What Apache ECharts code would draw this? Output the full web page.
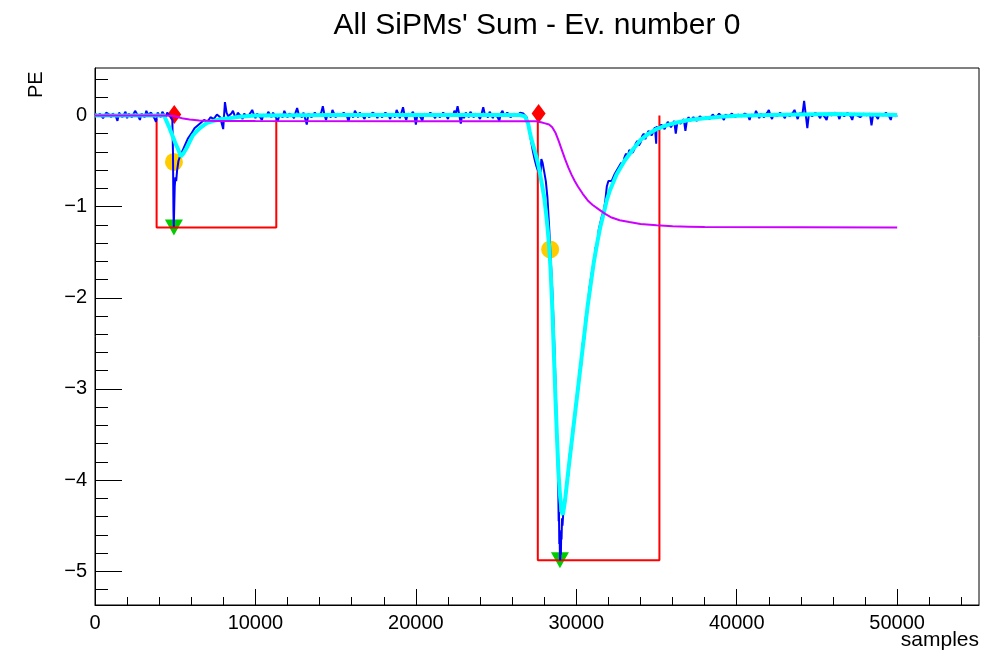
<!DOCTYPE html>
<html>
<head>
<meta charset="utf-8">
<script src="https://cdn.jsdelivr.net/npm/echarts@6/dist/echarts.min.js"></script>
<style>
  html, body { margin: 0; padding: 0; background: #fff; }
  #chart { width: 991px; height: 654px; }
</style>
</head>
<body>
<div id="chart"></div>
<script>
// summed waveform [sample, PE]
var waveform = [
  [0, 0.02], [100, 0.04], [200, -0.01], [300, 0.02], [400, 0.03], [500, -0.03], [600, 0.00], [700, 0.03],
  [800, 0.04], [900, 0.01], [1000, -0.02], [1100, 0.02], [1200, 0.03], [1300, -0.01], [1400, -0.06], [1500, 0.03],
  [1600, 0.02], [1700, -0.02], [1800, 0.01], [1900, 0.04], [2000, -0.03], [2100, 0.02], [2200, 0.04], [2300, -0.02],
  [2400, 0.00], [2500, 0.05], [2600, 0.03], [2700, -0.01], [2800, -0.05], [2900, 0.02], [3000, 0.02], [3100, -0.02],
  [3200, 0.05], [3300, 0.01], [3400, -0.01], [3500, 0.03], [3600, 0.03], [3700, -0.03], [3800, -0.07], [3900, 0.03],
  [4000, 0.02], [4100, -0.02], [4200, 0.04], [4300, 0.01], [4400, -0.02], [4500, 0.03], [4600, 0.03], [4700, -0.01],
  [4750, 0.00], [4820, -0.05], [4860, -0.4], [4890, -1.05], [4910, -1.22], [4940, -1.0], [4970, -0.78], [5010, -0.68],
  [5060, -0.72], [5120, -0.6], [5200, -0.5], [5300, -0.45], [5450, -0.39], [5600, -0.33], [5800, -0.25], [6000, -0.2],
  [6200, -0.14], [6400, -0.11], [6600, -0.08], [6800, -0.05], [7000, -0.07], [7200, -0.02], [7400, -0.04], [7600, 0.01],
  [7800, -0.02], [7990, -0.15], [8100, 0.145],
  [8200, 0.03], [8300, -0.01], [8400, -0.02], [8500, 0.02], [8600, 0.05], [8700, 0.00], [8800, -0.03], [8900, 0.03],
  [9000, 0.02], [9100, -0.01], [9200, -0.04], [9300, 0.02], [9400, 0.04], [9500, -0.02], [9600, 0.00], [9700, 0.03],
  [9800, 0.06], [9900, 0.01], [10000, -0.03], [10100, 0.02], [10200, 0.03], [10300, -0.02], [10400, -0.05], [10500, 0.01],
  [10600, 0.02], [10700, -0.01], [10800, 0.04], [10900, 0.02], [11000, -0.02], [11100, 0.03], [11200, 0.03], [11300, -0.03],
  [11400, -0.06], [11500, 0.01], [11600, 0.02], [11700, -0.02], [11800, 0.05], [11900, 0.01], [12000, -0.02], [12100, 0.02],
  [12200, 0.03], [12300, 0.00], [12400, -0.03], [12500, 0.03], [12600, 0.08], [12700, 0.01], [12800, 0.00], [12900, -0.02],
  [13000, 0.03], [13100, 0.01], [13200, -0.1], [13300, 0.02], [13400, 0.04], [13500, -0.02], [13600, -0.01], [13700, 0.03],
  [13800, 0.05], [13900, -0.01], [14000, -0.03], [14100, 0.03], [14200, 0.1], [14300, 0.01], [14400, -0.05], [14500, 0.02],
  [14600, 0.03], [14700, -0.02], [14800, 0.06], [14900, 0.02], [15000, -0.02], [15100, 0.02], [15200, 0.03], [15300, -0.01],
  [15400, -0.03], [15500, 0.03], [15600, 0.04], [15700, 0.00], [15800, -0.07], [15900, 0.02], [16000, 0.02], [16100, -0.02],
  [16200, 0.05], [16300, 0.02], [16400, -0.02], [16500, 0.03], [16600, 0.03], [16700, -0.01], [16800, -0.04], [16900, 0.02],
  [17000, 0.04], [17100, -0.02], [17200, 0.00], [17300, 0.03], [17400, 0.05], [17500, 0.01], [17600, -0.03], [17700, 0.02],
  [17800, 0.03], [17900, -0.02], [18000, -0.02], [18100, 0.03], [18200, 0.04], [18300, 0.00], [18400, -0.04], [18500, 0.02],
  [18600, 0.02], [18700, -0.02], [18800, 0.06], [18900, 0.02], [19000, -0.03], [19100, 0.03], [19200, 0.09], [19300, 0.00],
  [19400, -0.05], [19500, 0.02], [19600, 0.02], [19700, -0.01], [19800, 0.04], [19900, 0.01], [20000, -0.1], [20100, 0.02],
  [20200, 0.03], [20300, -0.02], [20400, -0.06], [20500, 0.02], [20600, 0.04], [20700, -0.01], [20800, 0.00], [20900, 0.03],
  [21000, 0.05], [21100, 0.00], [21200, -0.03], [21300, 0.02], [21400, 0.03], [21500, -0.02], [21600, -0.02], [21700, 0.03],
  [21800, 0.04], [21900, 0.00], [22000, -0.04], [22100, 0.02], [22200, 0.02], [22300, -0.01], [22400, 0.05], [22500, 0.02],
  [22600, 0.1], [22700, 0.01], [22800, -0.09], [22900, 0.02], [23000, -0.03], [23100, 0.03], [23200, 0.02], [23300, -0.02],
  [23400, 0.04], [23500, 0.01], [23600, -0.02], [23700, 0.02], [23800, 0.03], [23900, -0.01], [24000, -0.04], [24100, 0.02],
  [24200, 0.09], [24300, 0.01], [24400, 0.00], [24500, -0.02], [24600, 0.04], [24700, 0.01], [24800, -0.03], [24900, 0.02],
  [25000, 0.03], [25100, -0.02], [25200, -0.06], [25300, 0.02], [25400, 0.05], [25500, 0.00], [25600, 0.00], [25700, 0.03],
  [25800, 0.03], [25900, -0.02], [26000, -0.03], [26100, 0.02], [26200, 0.04], [26300, 0.00], [26400, -0.02], [26500, 0.03],
  [26600, 0.03], [26700, 0.02], [26800, 0.01], [26900, -0.02], [27000, -0.1], [27100, -0.2], [27200, -0.3], [27300, -0.4],
  [27400, -0.48], [27500, -0.55], [27600, -0.6], [27700, -0.62], [27780, -0.62], [27820, -0.48], [27900, -0.52], [28000, -0.62],
  [28100, -0.72], [28200, -0.9], [28300, -1.2], [28400, -1.55], [28500, -1.9], [28600, -2.35], [28700, -2.9], [28800, -3.5],
  [28860, -3.95], [28880, -4.15], [28900, -4.45], [28920, -4.35], [28940, -4.7], [28960, -4.6], [28980, -4.85], [29000, -4.88],
  [29020, -4.7], [29040, -4.82], [29060, -4.55], [29080, -4.65], [29110, -4.42], [29140, -4.5], [29200, -4.32],
  [29300, -4.2], [29400, -4.02], [29500, -3.95], [29600, -3.7], [29700, -3.65], [29800, -3.4], [29900, -3.35], [30000, -3.1],
  [30100, -3.05], [30200, -2.8], [30300, -2.75], [30400, -2.5], [30500, -2.45], [30600, -2.2], [30700, -2.15], [30800, -1.92],
  [30900, -1.9], [31000, -1.68], [31100, -1.62], [31200, -1.45], [31300, -1.42], [31400, -1.25], [31500, -1.25], [31600, -1.1],
  [31700, -1.05], [31800, -0.95], [31900, -0.78], [32000, -0.72], [32100, -0.74], [32200, -0.72], [32300, -0.68], [32400, -0.64],
  [32500, -0.66], [32600, -0.58], [32700, -0.6], [32800, -0.52], [32900, -0.55], [33000, -0.46], [33100, -0.42], [33200, -0.46],
  [33300, -0.38], [33400, -0.36], [33500, -0.41], [33600, -0.38], [33700, -0.31], [33800, -0.28], [33900, -0.33], [34000, -0.3],
  [34100, -0.23], [34200, -0.2], [34300, -0.26], [34400, -0.24], [34500, -0.17], [34600, -0.15], [34700, -0.22], [34800, -0.2],
  [34900, -0.13], [34980, -0.31], [35000, -0.12], [35100, -0.16], [35200, -0.18], [35300, -0.1], [35400, -0.08], [35500, -0.15],
  [35600, -0.14], [35700, -0.07], [35800, -0.06], [35900, -0.13], [36000, -0.12], [36100, -0.06], [36200, -0.2], [36300, -0.07],
  [36400, -0.05], [36500, -0.09], [36600, -0.1], [36700, -0.04], [36800, -0.17], [36900, -0.05], [37000, -0.02], [37100, -0.06],
  [37200, -0.08], [37300, -0.02], [37400, -0.03], [37500, -0.06], [37600, -0.07], [37700, -0.01], [37800, 0.0], [37900, -0.04],
  [38000, -0.06], [38100, -0.02], [38200, -0.01], [38300, -0.04], [38400, -0.05], [38500, 0.01], [38600, 0.02], [38700, -0.03],
  [38800, -0.04], [38900, 0.02], [39000, 0.01], [39100, -0.02], [39200, -0.05], [39300, 0.01], [39400, 0.03], [39500, -0.01],
  [39600, -0.02], [39700, 0.02], [39800, 0.02], [39900, -0.02], [40000, -0.04], [40100, 0.01], [40200, 0.03], [40300, -0.01],
  [40400, -0.02], [40500, 0.02], [40600, 0.04], [40700, 0.00], [40800, -0.05], [40900, 0.01], [41000, 0.02], [41100, -0.01],
  [41200, 0.05], [41300, 0.01], [41400, -0.03], [41500, 0.02], [41600, 0.03], [41700, -0.02], [41800, -0.02], [41900, 0.03],
  [42000, 0.06], [42100, 0.00], [42200, -0.04], [42300, 0.02], [42400, 0.03], [42500, -0.01], [42600, 0.00], [42700, 0.03],
  [42800, 0.05], [42900, 0.00], [43000, -0.03], [43100, 0.02], [43200, 0.04], [43300, -0.01], [43400, -0.02], [43500, 0.03],
  [43600, 0.06], [43700, 0.01], [43800, -0.04], [43900, 0.02], [44000, 0.03], [44100, 0.02], [44200, 0.16], [44300, 0.01],
  [44400, -0.14], [44500, 0.02], [44600, 0.04], [44700, -0.01], [44800, -0.02], [44900, 0.03], [45000, 0.05], [45100, 0.00],
  [45200, -0.03], [45300, 0.02], [45400, 0.03], [45500, -0.02], [45600, -0.05], [45700, 0.02], [45800, 0.04], [45900, 0.00],
  [46000, 0.00], [46100, 0.03], [46200, 0.05], [46300, 0.01], [46400, -0.04], [46500, 0.02], [46600, 0.03], [46700, -0.01],
  [46800, -0.02], [46900, 0.03], [47000, 0.04], [47100, -0.01], [47200, -0.05], [47300, 0.02], [47400, 0.03], [47500, 0.00],
  [47600, 0.02], [47700, -0.02], [47800, -0.03], [47900, 0.02], [48000, 0.04], [48100, 0.00], [48200, -0.02], [48300, 0.02],
  [48400, -0.11], [48500, 0.01], [48600, 0.03], [48700, -0.01], [48800, -0.04], [48900, 0.02], [49000, 0.04], [49100, 0.00],
  [49200, -0.02], [49300, 0.03], [49400, 0.03], [49500, -0.01], [49600, -0.05], [49700, 0.02], [49800, 0.02], [49900, -0.01],
  [50000, 0.0]
];

// fitted pulse shape
var fitCurve = [
  [0, 0.0], [4300, 0.0], [4400, -0.04], [4600, -0.12], [4800, -0.21], [5000, -0.3], [5200, -0.38], [5350, -0.45],
  [5400, -0.46], [5450, -0.44], [5500, -0.42], [5700, -0.36], [5900, -0.29], [6100, -0.22], [6300, -0.18], [6600, -0.13],
  [7000, -0.08], [7400, -0.06], [7900, -0.04], [8400, -0.03], [9000, -0.015], [10000, 0.0], [15000, 0.005], [20000, 0.005],
  [26500, 0.005], [26800, -0.01], [26900, -0.03], [27000, -0.09], [27100, -0.18], [27200, -0.26], [27300, -0.32], [27400, -0.38],
  [27500, -0.45], [27600, -0.52], [27700, -0.6], [27800, -0.7], [27900, -0.8], [28000, -0.9], [28100, -1.05], [28200, -1.22],
  [28300, -1.42], [28400, -1.7], [28500, -2.1], [28600, -2.6], [28700, -3.1], [28800, -3.55], [28900, -3.95], [29000, -4.2],
  [29100, -4.35], [29160, -4.38], [29300, -4.22], [29500, -3.9], [29700, -3.6], [29900, -3.3], [30100, -3.0], [30300, -2.7],
  [30500, -2.4], [30700, -2.1], [30900, -1.85], [31100, -1.6], [31300, -1.4], [31500, -1.22], [31700, -1.08], [31900, -0.93],
  [32100, -0.82], [32500, -0.65], [33000, -0.5], [33500, -0.38], [34000, -0.27], [34500, -0.2], [35000, -0.15], [35600, -0.11],
  [36200, -0.08], [37000, -0.05], [38000, -0.03], [39000, -0.015], [40000, -0.005], [42000, 0.005], [44000, 0.01], [46000, 0.015],
  [48000, 0.01], [50000, 0.005]
];

// running integral
var integral = [
  [0, 0.0], [4000, 0.0], [4800, -0.005], [5000, -0.01], [5200, -0.02], [5500, -0.035], [5900, -0.045], [6500, -0.055],
  [7500, -0.06], [10000, -0.062], [20000, -0.063], [27000, -0.063], [27500, -0.065], [27800, -0.075], [28000, -0.085], [28300, -0.1],
  [28500, -0.13], [28700, -0.19], [28900, -0.28], [29100, -0.38], [29300, -0.48], [29500, -0.57], [29700, -0.65], [29900, -0.72],
  [30100, -0.78], [30400, -0.86], [30700, -0.93], [31000, -0.98], [31400, -1.03], [31800, -1.08], [32200, -1.12], [32700, -1.15],
  [33300, -1.17], [34000, -1.19], [35000, -1.205], [36000, -1.215], [37000, -1.22], [38000, -1.225], [50000, -1.23]
];

// integration windows
var windowStart = [3840, 27600];
var windowEnd = [11300, 35180];
var windowTop = [-0.04, 0];
var windowBottom = [-1.23, -4.88];

// markers
var startX = [4940, 27650];
var startY = [0.01, 0.02];
var halfX = [4920, 28370];
var halfY = [-0.51, -1.47];
var peakX = [4920, 28980];
var peakY = [-1.23, -4.88];

var xMajorTicks = [0, 10000, 20000, 30000, 40000, 50000];
var xMinorTicks = [2000, 4000, 6000, 8000, 12000, 14000, 16000, 18000, 22000, 24000, 26000, 28000,
  32000, 34000, 36000, 38000, 42000, 44000, 46000, 48000, 52000, 54000];
var yMajorTicks = [-5, -4, -3, -2, -1, 0];
var yMinorTicks = [-5.2, -4.8, -4.6, -4.4, -4.2, -3.8, -3.6, -3.4, -3.2, -2.8, -2.6, -2.4, -2.2,
  -1.8, -1.6, -1.4, -1.2, -0.8, -0.6, -0.4, -0.2, 0.2, 0.4];

var FONT = 'Liberation Sans';
var chart = echarts.init(document.getElementById('chart'));

function pairs(xs, ys) {
  return xs.map(function (x, i) { return [x, ys[i]]; });
}

var series = [];
windowStart.forEach(function (x0, i) {
  series.push({
    type: 'line',
    data: [[x0, windowTop[i]], [x0, windowBottom[i]], [windowEnd[i], windowBottom[i]], [windowEnd[i], windowTop[i]]],
    showSymbol: false,
    lineStyle: { color: '#ff0000', width: 2 },
    silent: true
  });
});
series.push({
  type: 'line', data: waveform, showSymbol: false, silent: true,
  lineStyle: { color: '#0000ff', width: 2 }
});
series.push({
  type: 'line', data: fitCurve, showSymbol: false, silent: true,
  lineStyle: { color: '#00ffff', width: 4 }
});
series.push({
  type: 'line', data: integral, showSymbol: false, silent: true,
  lineStyle: { color: '#cc00ff', width: 2 }
});
series.push({
  type: 'scatter', data: pairs(startX, startY), symbol: 'diamond', symbolSize: [14, 19],
  itemStyle: { color: '#ff0000', opacity: 1 }, silent: true
});
series.push({
  type: 'scatter', data: pairs(halfX, halfY), symbol: 'circle', symbolSize: 18,
  itemStyle: { color: '#ffcc00', opacity: 1 }, silent: true
});
series.push({
  type: 'scatter', data: pairs(peakX, peakY), symbol: 'triangle', symbolRotate: 180, symbolSize: [18, 16],
  itemStyle: { color: '#00cc00', opacity: 1 }, silent: true
});

var axisText = { color: '#000', fontFamily: FONT, fontSize: 20 };

chart.setOption({
  animation: false,
  backgroundColor: '#fff',
  grid: { left: 95, right: 12, top: 68, bottom: 49, show: true, borderColor: '#000', borderWidth: 1 },
  xAxis: [{
    type: 'value', min: 0, max: 55100, position: 'bottom',
    axisLine: { show: true, onZero: false, lineStyle: { color: '#000', width: 1 } },
    axisTick: { show: true, inside: true, length: 16, customValues: xMajorTicks, lineStyle: { color: '#000' } },
    axisLabel: Object.assign({ customValues: xMajorTicks, margin: 8, formatter: function (v) { return String(v); } }, axisText),
    splitLine: { show: false }
  }, {
    type: 'value', min: 0, max: 55100, position: 'bottom', offset: 0,
    axisLine: { show: false, onZero: false },
    axisTick: { show: true, inside: true, length: 8, customValues: xMinorTicks, lineStyle: { color: '#000' } },
    axisLabel: { show: false },
    splitLine: { show: false }
  }],
  yAxis: [{
    type: 'value', min: -5.37, max: 0.52, position: 'left',
    axisLine: { show: true, onZero: false, lineStyle: { color: '#000', width: 1 } },
    axisTick: { show: true, inside: true, length: 27, customValues: yMajorTicks, lineStyle: { color: '#000' } },
    axisLabel: Object.assign({ customValues: yMajorTicks, margin: 8, formatter: function (v) { return String(v).replace('-', '\u2212'); } }, axisText),
    splitLine: { show: false }
  }, {
    type: 'value', min: -5.37, max: 0.52, position: 'left', offset: 0,
    axisLine: { show: false, onZero: false },
    axisTick: { show: true, inside: true, length: 13, customValues: yMinorTicks, lineStyle: { color: '#000' } },
    axisLabel: { show: false },
    splitLine: { show: false }
  }],
  graphic: [
    { type: 'text', x: 537, y: 26, style: { text: "All SiPMs' Sum - Ev. number 0", font: '30px ' + FONT, fill: '#000', align: 'center', verticalAlign: 'middle' } },
    { type: 'text', x: 26, y: 98, rotation: Math.PI / 2, style: { text: 'PE', font: '20px ' + FONT, fill: '#000' } },
    { type: 'text', right: 12, top: 630, style: { text: 'samples', font: '21px ' + FONT, fill: '#000' } }
  ],
  series: series
});
</script>
</body>
</html>
